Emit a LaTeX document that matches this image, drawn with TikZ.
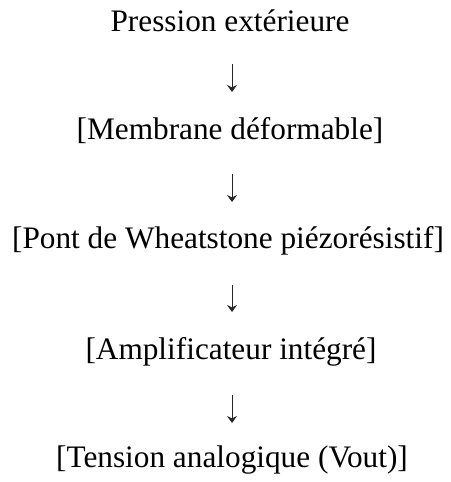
\documentclass[tikz,border=0pt]{standalone}
\usepackage{fontspec}
\setmainfont{Liberation Serif}
\usetikzlibrary{arrows.meta}
\begin{document}
\begin{tikzpicture}[x=1bp,y=1bp,
  label/.style={anchor=base,inner sep=0pt,font=\fontsize{31.4}{36}\selectfont},
  flow/.style={-{Stealth[length=7bp,width=10bp,inset=2.5bp]},line width=1bp,black!85}]
\useasboundingbox (0,0) rectangle (451,482);
\node[label] (p) at (230,450) {Pression extérieure};
\node[label] (m) at (230,342) {[Membrane déformable]};
\node[label] (w) at (228,233) {[Pont de Wheatstone piézorésistif]};
\node[label] (amp) at (231,122) {[Amplificateur intégré]};
\node[label] (v) at (232,14) {[Tension analogique (Vout)]};
\coordinate (a1s) at (232,418); \coordinate (a1e) at (232,390);
\coordinate (a2s) at (232,308); \coordinate (a2e) at (232,280);
\coordinate (a3s) at (232,197); \coordinate (a3e) at (232,170);
\coordinate (a4s) at (232,87);  \coordinate (a4e) at (232,59);
\draw[flow] (a1s) -- (a1e);
\draw[flow] (a2s) -- (a2e);
\draw[flow] (a3s) -- (a3e);
\draw[flow] (a4s) -- (a4e);
\end{tikzpicture}
\end{document}
